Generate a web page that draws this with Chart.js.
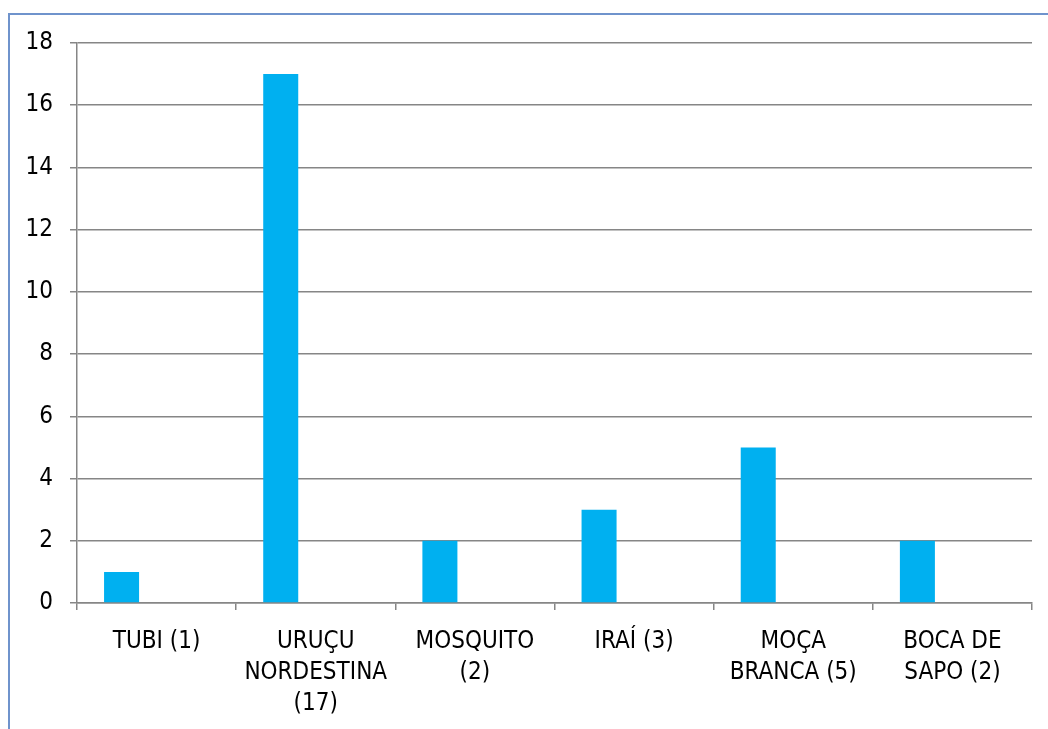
<!DOCTYPE html>
<html>
<head>
<meta charset="utf-8">
<script src="https://cdn.jsdelivr.net/npm/chart.js@4"></script>
<style>
  html, body { margin: 0; padding: 0; background: #fff; }
  #wrap { width: 1048px; height: 729px; position: relative; }
</style>
</head>
<body>
<div id="wrap"><canvas id="c" width="1048" height="729"></canvas></div>
<script>
const categories = [
  "TUBI (1)",
  ["URUÇU", "NORDESTINA", "(17)"],
  ["MOSQUITO", "(2)"],
  "IRAÍ (3)",
  ["MOÇA", "BRANCA (5)"],
  ["BOCA DE", "SAPO (2)"]
];
const series1 = [1, 17, 2, 3, 5, 2];
const series2 = [null, null, null, null, null, null];
const series3 = [null, null, null, null, null, null];
const yTicks = { min: 0, max: 18, step: 2 };

const frame = {
  id: 'frame',
  beforeDraw(chart) {
    const ctx = chart.ctx;
    ctx.save();
    ctx.fillStyle = '#fff';
    ctx.fillRect(0, 0, chart.width, chart.height);
    ctx.strokeStyle = '#6f93cc';
    ctx.lineWidth = 2;
    ctx.beginPath();
    ctx.moveTo(9, chart.height + 5);
    ctx.lineTo(9, 14);
    ctx.lineTo(chart.width + 5, 14);
    ctx.stroke();
    ctx.restore();
  }
};

const fam = "'DejaVu Sans Condensed', 'Liberation Sans', Arial, sans-serif";

new Chart(document.getElementById('c'), {
  type: 'bar',
  data: {
    labels: categories,
    datasets: [
      { data: series1, backgroundColor: '#00b0f0', categoryPercentage: 0.66, barPercentage: 1 },
      { data: series2, backgroundColor: '#c0504d', categoryPercentage: 0.66, barPercentage: 1 },
      { data: series3, backgroundColor: '#9bbb59', categoryPercentage: 0.66, barPercentage: 1 }
    ]
  },
  options: {
    responsive: false,
    animation: false,
    layout: { padding: { left: 0, top: 43, right: 16, bottom: 0 } },
    plugins: { legend: { display: false }, tooltip: { enabled: false } },
    scales: {
      x: {
        offset: true,
        grid: { offset: true, drawOnChartArea: false, drawTicks: true, tickLength: 7, color: '#868686', lineWidth: 1.5 },
        border: { display: true, color: '#868686', width: 1.5 },
        ticks: { color: '#000', font: { family: fam, size: 24, lineHeight: '31px' }, padding: 16, maxRotation: 0, autoSkip: false },
        afterFit(s) { s.height = 126; }
      },
      y: {
        min: yTicks.min, max: yTicks.max,
        grid: { color: '#868686', lineWidth: 1.5, tickLength: 7 },
        border: { display: true, color: '#868686', width: 1.5 },
        ticks: { stepSize: yTicks.step, color: '#000', font: { family: fam, size: 24 }, padding: 17 },
        afterFit(s) { s.width = 77; }
      }
    }
  },
  plugins: [frame]
});
</script>
</body>
</html>
